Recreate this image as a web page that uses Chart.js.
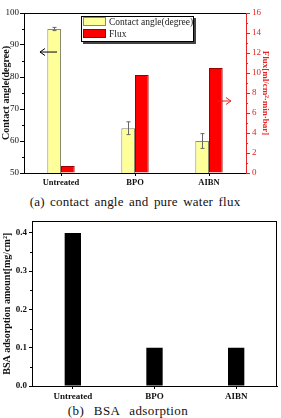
<!DOCTYPE html>
<html lang="en">
  <head>
    <meta charset="UTF-8" />
    <title>Contact angle, pure water flux and BSA adsorption</title>
    <script src="https://cdn.jsdelivr.net/npm/chart.js"></script>
    <style>
      body {
        margin: 0;
        width: 281px;
        height: 418px;
        position: relative;
        overflow: hidden;
        background: #fff;
        font-family: "Liberation Serif", serif;
        color: #111;
      }
      canvas { position: absolute; left: 0; }
      #chartTop { top: 0; }
      #chartBottom { top: 214px; }
      .caption {
        position: absolute;
        left: 0;
        text-align: center;
        font-size: 13px;
        line-height: 16px;
        white-space: nowrap;
      }
      #capA { top: 194px; width: 270px; word-spacing: 2px; letter-spacing: 0.2px; }
      #capB { top: 403px; width: 256px; word-spacing: 6px; letter-spacing: 0.4px; }
      #legend {
        position: absolute;
        left: 81px;
        top: 16px;
        width: 111px;
        height: 24px;
        border: 1px solid #000;
        background: #fff;
        box-shadow: 2px 2px 0 #444;
        font-size: 9.5px;
        line-height: 11.5px;
        color: #222;
      }
      #legend .item { height: 11.5px; white-space: nowrap; }
      #legend .swatch {
        display: inline-block;
        width: 21px;
        height: 7px;
        margin: 0 3px 0 1px;
        vertical-align: -1px;
        border: 1px solid;
      }
    </style>
  </head>
  <body>
    <canvas id="chartTop" width="281" height="192"></canvas>
    <div id="legend"></div>
    <div class="caption" id="capA">(a) contact angle and pure water flux</div>
    <canvas id="chartBottom" width="281" height="188"></canvas>
    <div class="caption" id="capB">(b) BSA adsorption</div>

    <script>
      const categories = ["Untreated", "BPO", "AIBN"];
      const contactAngle = [95, 64, 60];
      const contactErr = [0.5, 2, 2.3];
      const flux = [0.7, 9.8, 10.5];
      const bsa = [0.4, 0.1, 0.1];

      const angleTitle = "Contact angle(degree)";
      const fluxTitle = "Flux[ml/cm\u00b2\u00b7min\u00b7bar]";
      const bsaTitle = "BSA adsorption amount[mg/cm\u00b2]";

      const RED = "#e52222";

      Chart.defaults.font.family = "'Liberation Serif', serif";
      Chart.defaults.color = "#111";
      Chart.defaults.animation = false;

      // frame, minor ticks, error bars and the little arrows
      const extras = {
        id: "extras",
        afterDatasetsDraw(chart, args, opts) {
          const ctx = chart.ctx;
          const area = chart.chartArea;
          ctx.save();
          ctx.lineWidth = 1;

          if (opts.frame) {
            const t = Math.round(area.top) + 0.5;
            const r = Math.round(area.right) - 0.5;
            ctx.strokeStyle = "#000";
            ctx.beginPath();
            ctx.moveTo(area.left, t);
            ctx.lineTo(area.right, t);
            if (opts.frame.right) {
              ctx.moveTo(r, area.top);
              ctx.lineTo(r, area.bottom);
            }
            ctx.stroke();
          }

          (opts.minor || []).forEach((m) => {
            const s = chart.scales[m.axis];
            ctx.strokeStyle = m.color;
            ctx.beginPath();
            for (let v = s.min + m.step / 2; v < s.max; v += m.step) {
              const y = Math.round(s.getPixelForValue(v)) + 0.5;
              if (s.position === "left") {
                ctx.moveTo(area.left - 2, y);
                ctx.lineTo(area.left, y);
              } else {
                ctx.moveTo(area.right, y);
                ctx.lineTo(area.right + 2, y);
              }
            }
            ctx.stroke();
          });

          if (opts.errors) {
            const meta = chart.getDatasetMeta(opts.errors.dataset);
            const s = chart.scales[meta.yAxisID];
            const vals = chart.data.datasets[opts.errors.dataset].data;
            ctx.strokeStyle = "#666";
            ctx.beginPath();
            meta.data.forEach((bar, i) => {
              const x = Math.round(bar.x) + 0.5;
              const yt = s.getPixelForValue(vals[i] + opts.errors.values[i]);
              const yb = s.getPixelForValue(vals[i] - opts.errors.values[i]);
              ctx.moveTo(x, yt);
              ctx.lineTo(x, yb);
              ctx.moveTo(x - 2, yt);
              ctx.lineTo(x + 2, yt);
              ctx.moveTo(x - 2, yb);
              ctx.lineTo(x + 2, yb);
            });
            ctx.stroke();
          }

          (opts.arrows || []).forEach((a) => {
            const s = chart.scales[a.axis];
            const y = s.getPixelForValue(a.value);
            const w = area.right - area.left;
            const x1 = area.left + a.from * w;
            const x2 = area.left + a.to * w;
            const dir = x2 > x1 ? -1 : 1;
            ctx.strokeStyle = a.color;
            ctx.beginPath();
            ctx.moveTo(x1, y);
            ctx.lineTo(x2, y);
            ctx.moveTo(x2 + dir * 5, y - 3.5);
            ctx.lineTo(x2, y);
            ctx.lineTo(x2 + dir * 5, y + 3.5);
            ctx.stroke();
          });

          ctx.restore();
        },
      };

      const chartTop = new Chart("chartTop", {
        type: "bar",
        data: {
          labels: categories,
          datasets: [
            {
              label: "Contact angle(degree)",
              data: contactAngle,
              yAxisID: "y",
              backgroundColor: "#ffff99",
              borderColor: "#8a8a6a",
              borderWidth: 1,
            },
            {
              label: "Flux",
              data: flux,
              yAxisID: "y1",
              backgroundColor: "#ff0000",
              borderColor: "#9a0000",
              borderWidth: 1,
            },
          ],
        },
        options: {
          responsive: false,
          categoryPercentage: 0.37,
          barPercentage: 1,
          layout: { padding: { top: 13, left: 0, right: 0, bottom: 0 } },
          plugins: {
            legend: { display: false },
            tooltip: { enabled: false },
            extras: {
              frame: { right: false },
              minor: [
                { axis: "y", step: 10, color: "#000" },
                { axis: "y1", step: 2, color: RED },
              ],
              errors: { dataset: 0, values: contactErr },
              arrows: [
                { axis: "y", value: 87.8, from: 0.149, to: 0.072, color: "#000" },
                { axis: "y1", value: 7.2, from: 0.874, to: 0.932, color: RED },
              ],
            },
          },
          scales: {
            x: {
              offset: true,
              grid: { offset: false, drawOnChartArea: false, tickLength: 3, color: "#000" },
              border: { color: "#000" },
              ticks: { maxRotation: 0, padding: 2, font: { size: 8.5, weight: "bold" } },
              afterFit: (s) => { s.height = 19; },
            },
            y: {
              position: "left",
              min: 50,
              max: 100,
              ticks: { stepSize: 10, padding: 1, font: { size: 9 } },
              grid: { drawOnChartArea: false, tickLength: 4, color: "#000" },
              border: { color: "#000" },
              title: {
                display: true,
                text: angleTitle,
                padding: { top: 0, bottom: 0 },
                font: { size: 10, weight: "bold" },
              },
              afterFit: (s) => { s.width = 24; },
            },
            y1: {
              position: "right",
              min: 0,
              max: 16,
              ticks: { stepSize: 2, padding: 2, color: RED, font: { size: 9 } },
              grid: { drawOnChartArea: false, tickLength: 4, color: RED },
              border: { color: RED },
              title: {
                display: true,
                text: fluxTitle,
                color: RED,
                padding: { top: 10, bottom: 0 },
                font: { size: 9, weight: "bold" },
              },
              afterFit: (s) => { s.width = 35; },
            },
          },
        },
        plugins: [extras],
      });

      // legend sits inside the plot, like the original
      const legendBox = document.getElementById("legend");
      chartTop.data.datasets.forEach((ds) => {
        const row = document.createElement("div");
        row.className = "item";
        const sw = document.createElement("span");
        sw.className = "swatch";
        sw.style.background = ds.backgroundColor;
        sw.style.borderColor = ds.borderColor;
        row.appendChild(sw);
        row.appendChild(document.createTextNode(ds.label));
        legendBox.appendChild(row);
      });

      new Chart("chartBottom", {
        type: "bar",
        data: {
          labels: categories,
          datasets: [
            {
              label: "BSA adsorption",
              data: bsa,
              backgroundColor: "#000",
              borderWidth: 0,
            },
          ],
        },
        options: {
          responsive: false,
          categoryPercentage: 1,
          barPercentage: 0.2,
          layout: { padding: { top: 7, left: 0, right: 4, bottom: 0 } },
          plugins: {
            legend: { display: false },
            tooltip: { enabled: false },
            extras: {
              frame: { right: true },
              minor: [{ axis: "y", step: 0.1, color: "#000" }],
            },
          },
          scales: {
            x: {
              offset: true,
              grid: { offset: false, drawOnChartArea: false, tickLength: 3, color: "#000" },
              border: { color: "#000" },
              ticks: { maxRotation: 0, padding: 2, font: { size: 9, weight: "bold" } },
              afterFit: (s) => { s.height = 16; },
            },
            y: {
              min: 0,
              max: 0.43,
              ticks: {
                stepSize: 0.1,
                padding: 2,
                font: { size: 9, weight: "bold" },
                callback: (v) => v.toFixed(1),
              },
              afterBuildTicks: (s) => {
                s.ticks = s.ticks.filter((t) => Math.abs(t.value * 10 - Math.round(t.value * 10)) < 1e-6);
              },
              grid: { drawOnChartArea: false, tickLength: 3, color: "#000" },
              border: { color: "#000" },
              title: {
                display: true,
                text: bsaTitle,
                padding: { top: 1, bottom: 0 },
                font: { size: 10, weight: "bold" },
              },
              afterFit: (s) => { s.width = 32; },
            },
          },
        },
        plugins: [extras],
      });
    </script>
  </body>
</html>
